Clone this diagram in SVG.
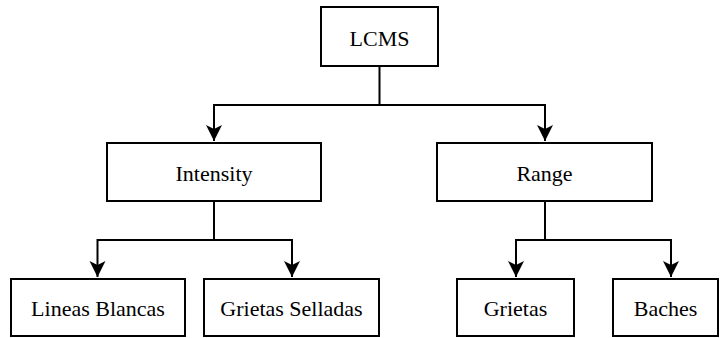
<svg xmlns="http://www.w3.org/2000/svg" width="720" height="338" viewBox="0 0 720 338">
<style>
.box{fill:#fff;stroke:#000;stroke-width:2}
.lbl{font-size:22px;fill:#000;text-anchor:middle}
.ln{fill:none;stroke:#000;stroke-width:2}
</style>
<defs>
<marker id="ah" markerUnits="userSpaceOnUse" markerWidth="18" markerHeight="18" refX="16" refY="8" orient="auto" viewBox="0 0 18 16">
<path d="M0,0 L16,8 L0,16 L4,8 Z" fill="#000"/>
</marker>
</defs>
<g id="connectors">
<path class="ln" d="M379.5,66 V105 H214 V141" marker-end="url(#ah)"/>
<path class="ln" d="M379.5,105 H545 V141" marker-end="url(#ah)"/>
<path class="ln" d="M214,201 V240 H97.5 V277" marker-end="url(#ah)"/>
<path class="ln" d="M214,240 H292 V277" marker-end="url(#ah)"/>
<path class="ln" d="M545,201 V240 H516 V277" marker-end="url(#ah)"/>
<path class="ln" d="M545,240 H671 V277" marker-end="url(#ah)"/>
</g>
<g font-family="Liberation Serif, DejaVu Serif, serif">
<g id="lcms"><rect class="box" x="321" y="7" width="117" height="59"/><text class="lbl" x="379.5" y="46">LCMS</text></g>
<g id="intensity"><rect class="box" x="107" y="143" width="214" height="58"/><text class="lbl" x="214" y="181">Intensity</text></g>
<g id="range"><rect class="box" x="437" y="143" width="215" height="58"/><text class="lbl" x="544.5" y="181">Range</text></g>
<g id="lineas"><rect class="box" x="11" y="279" width="174" height="57"/><text class="lbl" x="98" y="316">Lineas Blancas</text></g>
<g id="selladas"><rect class="box" x="204" y="279" width="175" height="57"/><text class="lbl" x="291.5" y="316">Grietas Selladas</text></g>
<g id="grietas"><rect class="box" x="457" y="279" width="117" height="57"/><text class="lbl" x="515.5" y="316">Grietas</text></g>
<g id="baches"><rect class="box" x="613" y="279" width="105" height="57"/><text class="lbl" x="665.5" y="316">Baches</text></g>
</g>
</svg>
